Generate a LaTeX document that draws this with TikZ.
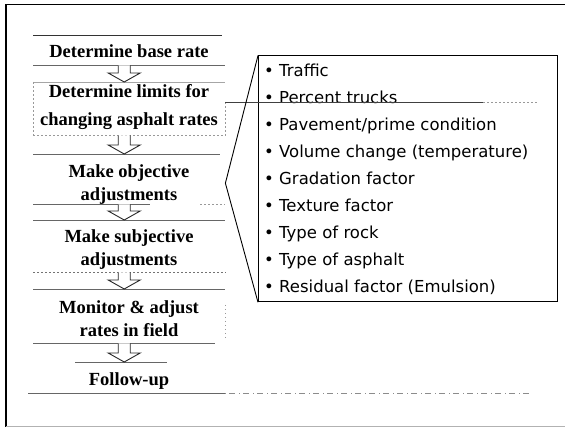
\documentclass[tikz,border=0pt]{standalone}
\usepackage{fontspec}
\setmainfont{Liberation Serif}
\newfontfamily\listfont{DejaVu Sans}
\usetikzlibrary{calc}

\begin{document}
\begin{tikzpicture}[x=1pt,y=-1pt,
  stage/.style={minimum width=192pt, inner sep=0pt, anchor=north west},
  stagetext/.style={font=\fontsize{18.5}{23}\selectfont\bfseries, align=center, inner sep=0pt},
  rule/.style={draw=black!60, line width=0.6pt},
  faint/.style={draw=black!40, line width=0.5pt, dash pattern=on 2pt off 2pt},
  trail/.style={draw=black!45, line width=0.5pt, dash pattern=on 1pt off 3pt on 6pt off 4pt},
  hollow/.style={draw=black!85, line width=0.9pt, fill=white, line join=miter},
  factor/.style={font=\listfont\fontsize{16.5}{20}\selectfont, anchor=base west, inner sep=0pt},
  bracket/.style={draw=black, line width=0.9pt},
]
\useasboundingbox (0,0) rectangle (565,427);
\fill[white] (0,0) rectangle (565,427);

% outer frame
\draw[black, line width=1.2pt] (6,427) -- (6,4.5) -- (565,4.5);
\draw[black!30, line width=0.6pt] (6,426) -- (565,426);

% stage boxes of the procedure
\node[stage, minimum height=30pt] (b1) at (33,35) {};
\node[stage, minimum height=53pt] (b2) at (33,82) {};
\node[stage, minimum height=50pt] (b3) at (33,154) {};
\node[stage, minimum height=52pt] (b4) at (33,220) {};
\node[stage, minimum height=54pt] (b5) at (33,289) {};
\node[stage, minimum height=31pt] (b6) at (33,362) {};

% stage labels
\node[stagetext] (t1) at (129,50.7) {Determine base rate};
\node[stagetext, font=\fontsize{18.5}{28}\selectfont\bfseries] (t2) at (129,106.7)
  {Determine limits for\\changing asphalt rates};
\node[stagetext] (t3) at (129,184.2) {Make objective\\adjustments};
\node[stagetext] (t4) at (129,249.2) {Make subjective\\adjustments};
\node[stagetext] (t5) at (129,318.2) {Monitor \& adjust\\rates in field};
\node[stagetext] (t6) at (129,380.7) {Follow-up};

% rules above and below each stage
\draw[rule, draw=black!80] (b1.north west) -- ([xshift=-3pt]b1.north east);
\draw[rule] (b1.south west) -- (b1.south east);
\draw[rule, draw=black!35] (b2.north west) -- (b2.north east);
\draw[faint] (b2.south west) -- (b2.south east);
\draw[faint] (b2.north west) -- (b2.south west);
\coordinate (k2) at ([yshift=-20pt]b2.north east);
\draw[faint] (k2) -- (b2.south east);
\draw[rule] (b3.north west) -- ([xshift=-5pt]b3.north east);
\draw[rule] (b3.south west) -- ([xshift=-75pt]b3.south east);
\draw[faint] ([xshift=-25pt]b3.south east) -- (b3.south east);
\draw[rule] (b4.north west) -- (b4.north east);
\draw[faint, draw=black!55] (b4.south west) -- (b4.south east);
\draw[rule] (b5.north west) -- (b5.north east);
\draw[rule] (b5.south west) -- ([xshift=-10pt]b5.south east);
\draw[faint, dash pattern=on 1pt off 3pt] ([yshift=-16pt]b5.north east) -- ([yshift=6pt]b5.south east);
\draw[rule] ([xshift=42pt]b6.north west) -- ([xshift=-58pt]b6.north east);
\draw[rule] ([xshift=-5pt]b6.south west) -- (b6.south east);
\coordinate (tail) at ([xshift=305pt]b6.south east);
\draw[trail] (b6.south east) -- (tail);

% hollow arrows between consecutive stages
\foreach \i/\j in {1/2,2/3,3/4,4/5,5/6}
  \draw[hollow] let \p1=(b\i.south), \p2=(b\j.north) in
    (\x1-11pt,\y1) -- (\x1-11pt,\y2+9pt) -- (\x1-21pt,\y2+9pt) -- (\x1-5pt,\y2)
    -- (\x1+11pt,\y2+9pt) -- (\x1+1pt,\y2+9pt) -- (\x1+1pt,\y1);

% list of objective adjustment factors
\node[draw=black, line width=0.8pt, minimum width=299pt, minimum height=246pt,
      anchor=north west, inner sep=0pt] (list) at (258,55.5) {};
\foreach \txt [count=\i from 0] in {Traffic, Percent trucks, Pavement/prime condition,
    Volume change (temperature), Gradation factor, Texture factor, Type of rock,
    Type of asphalt, Residual factor (Emulsion)}
  \node[factor] (f\i) at ($(list.north west)+(6,21.5+27*\i)$) {\makebox[15pt][l]{•}\txt};

% line running from the second stage across the list
\coordinate (k2mid) at ($(k2)+(258,0)$);
\coordinate (k2end) at ($(k2)+(312,0)$);
\draw[rule, draw=black!75] (k2) -- (k2mid);
\draw[faint] (k2mid) -- (k2end);

% bracket tying the list to the objective stage
\coordinate (apex) at ([yshift=-4pt]b3.east);
\draw[bracket] (list.north west) -- (apex) -- (list.south west);
\end{tikzpicture}
\end{document}
